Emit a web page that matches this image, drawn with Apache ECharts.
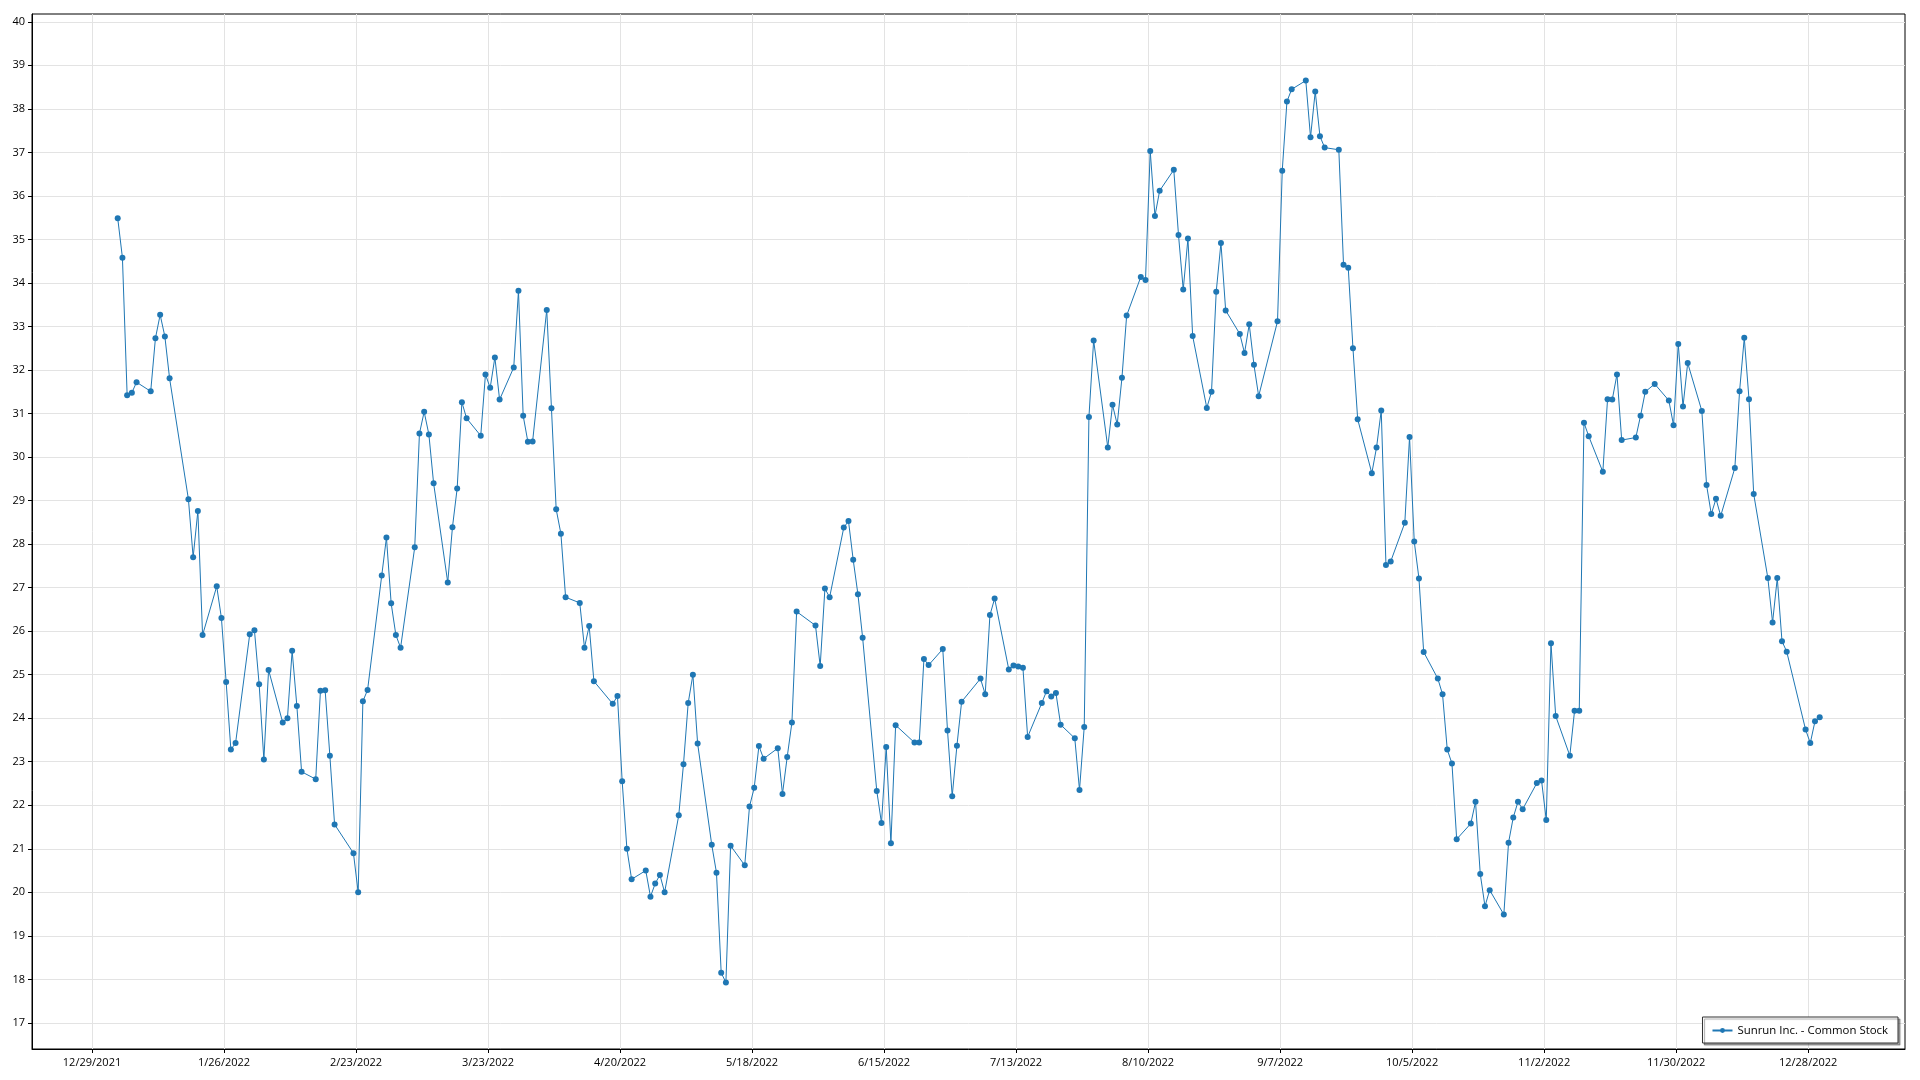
<!DOCTYPE html>
<html>
<head>
<meta charset="utf-8">
<script src="https://cdn.jsdelivr.net/npm/echarts@6/dist/echarts.min.js"></script>
<style>
html,body{margin:0;padding:0;background:#fff;}
#chart{width:1920px;height:1080px;}
</style>
</head>
<body>
<div id="chart"></div>
<script>
const seriesName = 'Sunrun Inc. - Common Stock';

const dates = [
'2022-01-03','2022-01-04','2022-01-05','2022-01-06','2022-01-07','2022-01-10','2022-01-11','2022-01-12','2022-01-13','2022-01-14',
'2022-01-18','2022-01-19','2022-01-20','2022-01-21','2022-01-24','2022-01-25','2022-01-26','2022-01-27','2022-01-28','2022-01-31',
'2022-02-01','2022-02-02','2022-02-03','2022-02-04','2022-02-07','2022-02-08','2022-02-09','2022-02-10','2022-02-11','2022-02-14',
'2022-02-15','2022-02-16','2022-02-17','2022-02-18','2022-02-22','2022-02-23','2022-02-24','2022-02-25','2022-02-28',
'2022-03-01','2022-03-02','2022-03-03','2022-03-04','2022-03-07','2022-03-08','2022-03-09','2022-03-10','2022-03-11','2022-03-14',
'2022-03-15','2022-03-16','2022-03-17','2022-03-18','2022-03-21','2022-03-22','2022-03-23','2022-03-24','2022-03-25','2022-03-28',
'2022-03-29','2022-03-30','2022-03-31',
'2022-04-01','2022-04-04','2022-04-05','2022-04-06','2022-04-07','2022-04-08','2022-04-11','2022-04-12','2022-04-13','2022-04-14',
'2022-04-18','2022-04-19','2022-04-20','2022-04-21','2022-04-22','2022-04-25','2022-04-26','2022-04-27','2022-04-28','2022-04-29',
'2022-05-02','2022-05-03','2022-05-04','2022-05-05','2022-05-06','2022-05-09','2022-05-10','2022-05-11','2022-05-12','2022-05-13',
'2022-05-16','2022-05-17','2022-05-18','2022-05-19','2022-05-20','2022-05-23','2022-05-24','2022-05-25','2022-05-26','2022-05-27',
'2022-05-31',
'2022-06-01','2022-06-02','2022-06-03','2022-06-06','2022-06-07','2022-06-08','2022-06-09','2022-06-10','2022-06-13','2022-06-14',
'2022-06-15','2022-06-16','2022-06-17','2022-06-21','2022-06-22','2022-06-23','2022-06-24','2022-06-27','2022-06-28','2022-06-29',
'2022-06-30',
'2022-07-01','2022-07-05','2022-07-06','2022-07-07','2022-07-08','2022-07-11','2022-07-12','2022-07-13','2022-07-14','2022-07-15',
'2022-07-18','2022-07-19','2022-07-20','2022-07-21','2022-07-22','2022-07-25','2022-07-26','2022-07-27','2022-07-28','2022-07-29',
'2022-08-01','2022-08-02','2022-08-03','2022-08-04','2022-08-05','2022-08-08','2022-08-09','2022-08-10','2022-08-11','2022-08-12',
'2022-08-15','2022-08-16','2022-08-17','2022-08-18','2022-08-19','2022-08-22','2022-08-23','2022-08-24','2022-08-25','2022-08-26',
'2022-08-29','2022-08-30','2022-08-31',
'2022-09-01','2022-09-02','2022-09-06','2022-09-07','2022-09-08','2022-09-09','2022-09-12','2022-09-13','2022-09-14','2022-09-15',
'2022-09-16','2022-09-19','2022-09-20','2022-09-21','2022-09-22','2022-09-23','2022-09-26','2022-09-27','2022-09-28','2022-09-29',
'2022-09-30',
'2022-10-03','2022-10-04','2022-10-05','2022-10-06','2022-10-07','2022-10-10','2022-10-11','2022-10-12','2022-10-13','2022-10-14',
'2022-10-17','2022-10-18','2022-10-19','2022-10-20','2022-10-21','2022-10-24','2022-10-25','2022-10-26','2022-10-27','2022-10-28',
'2022-10-31',
'2022-11-01','2022-11-02','2022-11-03','2022-11-04','2022-11-07','2022-11-08','2022-11-09','2022-11-10','2022-11-11','2022-11-14',
'2022-11-15','2022-11-16','2022-11-17','2022-11-18','2022-11-21','2022-11-22','2022-11-23','2022-11-25','2022-11-28','2022-11-29',
'2022-11-30',
'2022-12-01','2022-12-02','2022-12-05','2022-12-06','2022-12-07','2022-12-08','2022-12-09','2022-12-12','2022-12-13','2022-12-14',
'2022-12-15','2022-12-16','2022-12-19','2022-12-20','2022-12-21','2022-12-22','2022-12-23','2022-12-27','2022-12-28','2022-12-29',
'2022-12-30'
];

const closes = [
35.49,34.58,31.42,31.48,31.72,31.51,32.73,33.27,32.77,31.81,
29.03,27.70,28.76,25.91,27.03,26.30,24.83,23.28,23.43,25.93,
26.02,24.78,23.05,25.11,23.90,24.00,25.55,24.28,22.77,22.60,
24.63,24.64,23.14,21.56,20.90,20.00,24.39,24.65,27.28,
28.15,26.64,25.91,25.62,27.93,30.54,31.04,30.52,29.40,27.12,
28.39,29.28,31.26,30.89,30.49,31.90,31.59,32.29,31.32,32.06,
33.82,30.95,30.35,
30.36,33.38,31.12,28.80,28.24,26.78,26.65,25.62,26.12,24.85,
24.33,24.51,22.55,21.00,20.30,20.50,19.90,20.20,20.40,20.00,
21.77,22.94,24.35,25.00,23.42,21.09,20.45,18.15,17.93,21.07,
20.62,21.97,22.40,23.36,23.07,23.31,22.26,23.11,23.90,26.45,
26.13,
25.20,26.98,26.78,28.38,28.53,27.64,26.85,25.85,22.33,21.59,
23.34,21.13,23.84,23.44,23.44,25.36,25.22,25.59,23.72,22.21,
23.37,
24.38,24.91,24.55,26.37,26.75,25.12,25.21,25.19,25.16,23.57,
24.35,24.62,24.50,24.58,23.85,23.54,22.35,23.80,30.92,32.68,
30.22,31.20,30.75,31.82,33.25,34.14,34.07,37.03,35.54,36.12,
36.60,35.10,33.85,35.02,32.78,31.13,31.50,33.80,34.92,33.37,
32.83,32.39,33.05,
32.12,31.40,33.12,36.58,38.17,38.45,38.65,37.35,38.40,37.37,
37.11,37.06,34.42,34.35,32.50,30.87,29.63,30.22,31.07,27.52,
27.60,
28.49,30.46,28.06,27.21,25.52,24.91,24.55,23.28,22.96,21.22,
21.58,22.08,20.42,19.68,20.05,19.49,21.14,21.72,22.08,21.91,
22.51,
22.57,21.66,25.72,24.05,23.14,24.17,24.17,30.79,30.48,29.66,
31.33,31.32,31.90,30.39,30.45,30.95,31.50,31.68,31.30,30.73,
32.60,
31.16,32.16,31.06,29.36,28.69,29.04,28.65,29.75,31.51,32.74,
31.33,29.15,27.22,26.20,27.22,25.77,25.53,23.74,23.43,23.93,
24.02
];

const xTickDates = ['2021-12-29','2022-01-26','2022-02-23','2022-03-23','2022-04-20','2022-05-18','2022-06-15',
  '2022-07-13','2022-08-10','2022-09-07','2022-10-05','2022-11-02','2022-11-30','2022-12-28'];
const yTickValues = [17,18,19,20,21,22,23,24,25,26,27,28,29,30,31,32,33,34,35,36,37,38,39,40];

// axis scale helpers (days counted from the first x tick)
const DAY = 86400000;
const originDate = xTickDates[0];
const timeOfDay = 0.45; // sample time within the day
function toUTC(s){ const p = s.split('-').map(Number); return Date.UTC(p[0], p[1]-1, p[2]); }
function dayNum(s){ return (toUTC(s) - toUTC(originDate)) / DAY; }
function fmtDate(d){
  const t = new Date(toUTC(originDate) + Math.round(d) * DAY);
  return (t.getUTCMonth()+1) + '/' + t.getUTCDate() + '/' + t.getUTCFullYear();
}

const xTicks = xTickDates.map(dayNum);
const points = dates.map((d, i) => [dayNum(d) + timeOfDay, closes[i]]);

const FONT = '"Open Sans", "Noto Sans", sans-serif';
const chart = echarts.init(document.getElementById('chart'), null, {renderer: 'canvas'});
chart.setOption({
  animation: false,
  backgroundColor: '#ffffff',
  grid: {left: 32, right: 15, top: 14, bottom: 31, show: true, borderColor: '#000', borderWidth: 1, backgroundColor: 'transparent'},
  legend: {
    data: [seriesName],
    right: 22, bottom: 37,
    backgroundColor: '#ffffff',
    borderColor: '#333333', borderWidth: 1,
    padding: [8, 10, 7, 9],
    itemWidth: 20, itemHeight: 6, itemGap: 6,
    shadowColor: 'rgba(0,0,0,0.35)', shadowOffsetX: 2, shadowOffsetY: 2, shadowBlur: 1,
    textStyle: {fontFamily: FONT, fontSize: 11.4, color: '#000'}
  },
  xAxis: {
    type: 'value', min: -12.73, max: 384.54,
    axisLine: {show: true, onZero: false, lineStyle: {color: '#000', width: 1}},
    axisTick: {show: true, customValues: xTicks, length: 4, lineStyle: {color: '#000'}},
    axisLabel: {customValues: xTicks, formatter: v => fmtDate(v), fontFamily: FONT, fontSize: 11, color: '#000', margin: 8},
    splitLine: {show: true, lineStyle: {color: '#e3e3e3', width: 1}}
  },
  yAxis: {
    type: 'value', min: 16.40, max: 40.18,
    axisLine: {show: true, onZero: false, lineStyle: {color: '#000', width: 1}},
    axisTick: {show: true, customValues: yTickValues, length: 4, lineStyle: {color: '#000'}},
    axisLabel: {customValues: yTickValues, fontFamily: FONT, fontSize: 11, color: '#000', margin: 7},
    splitLine: {show: true, lineStyle: {color: '#e3e3e3', width: 1}}
  },
  series: [{
    name: seriesName,
    type: 'line',
    data: points,
    symbol: 'circle', symbolSize: 6, showSymbol: true, showAllSymbol: true,
    lineStyle: {color: '#1f77b4', width: 1},
    itemStyle: {color: '#1f77b4', borderWidth: 0},
    emphasis: {disabled: true}
  }]
});
</script>
</body>
</html>
